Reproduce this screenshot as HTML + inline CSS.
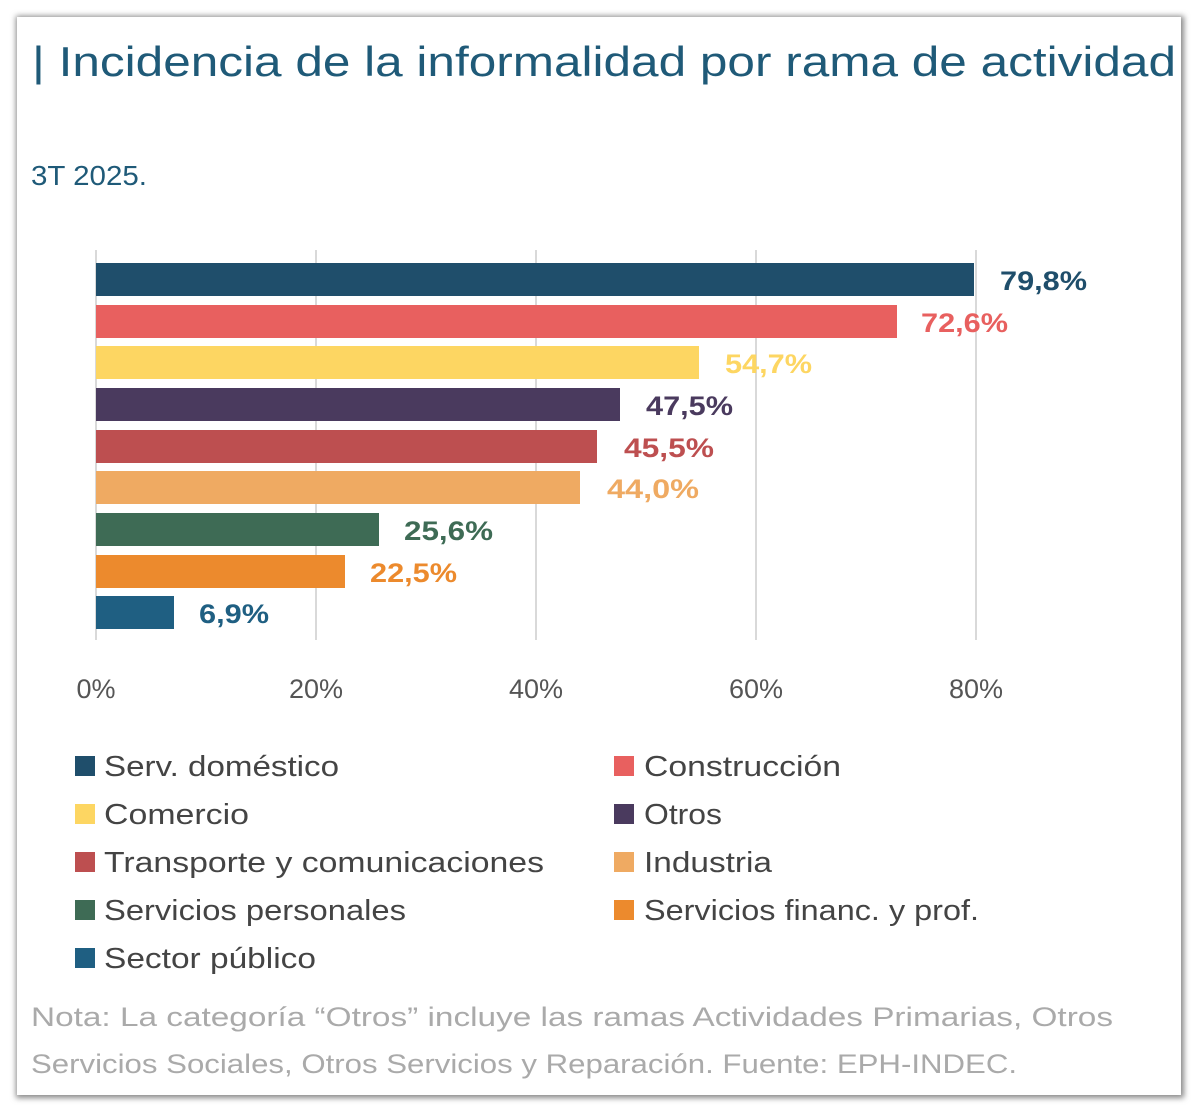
<!DOCTYPE html>
<html><head><meta charset="utf-8"><style>
html,body{margin:0;padding:0;background:#fff;}
svg{display:block;}
</style></head><body>
<svg width="1200" height="1115" xmlns="http://www.w3.org/2000/svg" font-family="Liberation Sans, sans-serif">
<defs><filter id="s" x="-5%" y="-5%" width="110%" height="110%"><feGaussianBlur stdDeviation="3"/></filter></defs>
<rect x="16" y="16" width="1168" height="1082" fill="#888" filter="url(#s)"/>
<rect x="17" y="17" width="1164" height="1078" fill="#fff"/>
<text x="32" y="76" font-size="42" fill="#1f5a78" textLength="1144" lengthAdjust="spacingAndGlyphs">| Incidencia de la informalidad por rama de actividad</text>
<text x="31" y="185" font-size="28" fill="#1f5a78" textLength="116" lengthAdjust="spacingAndGlyphs">3T 2025.</text>
<g stroke="#d9d9d9" stroke-width="2">
<line x1="96" y1="250" x2="96" y2="640"/><line x1="316" y1="250" x2="316" y2="640"/><line x1="536" y1="250" x2="536" y2="640"/><line x1="756" y1="250" x2="756" y2="640"/><line x1="976" y1="250" x2="976" y2="640"/>
</g>
<g font-size="27" fill="#555" text-anchor="middle">
<text x="96" y="698">0%</text><text x="316" y="698">20%</text><text x="536" y="698">40%</text><text x="756" y="698">60%</text><text x="976" y="698">80%</text>
</g>
<g font-size="27" font-weight="bold">
<rect x="96" y="263" width="878" height="33" fill="#1f4e6b"/><text x="1000" y="290" fill="#1f4e6b" textLength="87" lengthAdjust="spacingAndGlyphs">79,8%</text>
<rect x="96" y="305" width="801" height="33" fill="#e8605f"/><text x="921" y="332" fill="#e8605f" textLength="87" lengthAdjust="spacingAndGlyphs">72,6%</text>
<rect x="96" y="346" width="603" height="33" fill="#fdd662"/><text x="725" y="373" fill="#fdd662" textLength="87" lengthAdjust="spacingAndGlyphs">54,7%</text>
<rect x="96" y="388" width="524" height="33" fill="#4a3a5e"/><text x="646" y="415" fill="#4a3a5e" textLength="87" lengthAdjust="spacingAndGlyphs">47,5%</text>
<rect x="96" y="430" width="501" height="33" fill="#bd4f50"/><text x="624" y="457" fill="#bd4f50" textLength="90" lengthAdjust="spacingAndGlyphs">45,5%</text>
<rect x="96" y="471" width="484" height="33" fill="#efaa62"/><text x="607" y="498" fill="#efaa62" textLength="92" lengthAdjust="spacingAndGlyphs">44,0%</text>
<rect x="96" y="513" width="283" height="33" fill="#3e6b55"/><text x="404" y="540" fill="#3e6b55" textLength="89" lengthAdjust="spacingAndGlyphs">25,6%</text>
<rect x="96" y="555" width="249" height="33" fill="#ec8a2d"/><text x="370" y="582" fill="#ec8a2d" textLength="87" lengthAdjust="spacingAndGlyphs">22,5%</text>
<rect x="96" y="596" width="78" height="33" fill="#1f5f82"/><text x="199" y="623" fill="#1f5f82" textLength="70" lengthAdjust="spacingAndGlyphs">6,9%</text>
</g>
<g font-size="29" fill="#444" lengthAdjust="spacingAndGlyphs">
<rect x="75" y="756" width="20" height="20" fill="#1f4e6b"/><text x="104" y="776" textLength="235" lengthAdjust="spacingAndGlyphs">Serv. doméstico</text>
<rect x="614" y="756" width="20" height="20" fill="#e8605f"/><text x="644" y="776" textLength="197" lengthAdjust="spacingAndGlyphs">Construcción</text>
<rect x="75" y="804" width="20" height="20" fill="#fdd662"/><text x="104" y="824" textLength="145" lengthAdjust="spacingAndGlyphs">Comercio</text>
<rect x="614" y="804" width="20" height="20" fill="#4a3a5e"/><text x="644" y="824" textLength="78" lengthAdjust="spacingAndGlyphs">Otros</text>
<rect x="75" y="852" width="20" height="20" fill="#bd4f50"/><text x="104" y="872" textLength="440" lengthAdjust="spacingAndGlyphs">Transporte y comunicaciones</text>
<rect x="614" y="852" width="20" height="20" fill="#efaa62"/><text x="644" y="872" textLength="128" lengthAdjust="spacingAndGlyphs">Industria</text>
<rect x="75" y="900" width="20" height="20" fill="#3e6b55"/><text x="104" y="920" textLength="302" lengthAdjust="spacingAndGlyphs">Servicios personales</text>
<rect x="614" y="900" width="20" height="20" fill="#ec8a2d"/><text x="644" y="920" textLength="335" lengthAdjust="spacingAndGlyphs">Servicios financ. y prof.</text>
<rect x="75" y="948" width="20" height="20" fill="#1f5f82"/><text x="104" y="968" textLength="212" lengthAdjust="spacingAndGlyphs">Sector público</text>
</g>
<g font-size="27" fill="#aaa">
<text x="31" y="1026" textLength="1082" lengthAdjust="spacingAndGlyphs">Nota: La categoría “Otros” incluye las ramas Actividades Primarias, Otros</text>
<text x="31" y="1073" textLength="986" lengthAdjust="spacingAndGlyphs">Servicios Sociales, Otros Servicios y Reparación. Fuente: EPH-INDEC.</text>
</g>
</svg>
</body></html>
